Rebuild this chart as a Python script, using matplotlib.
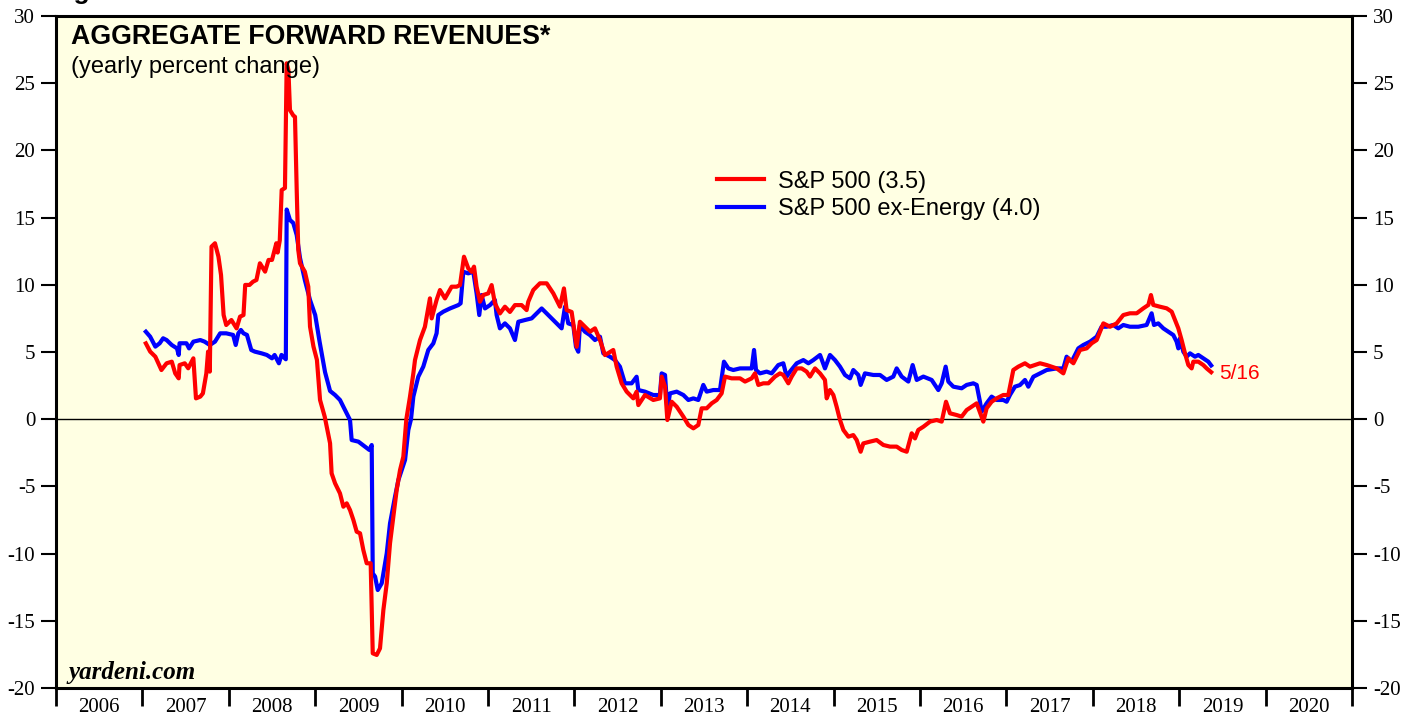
import matplotlib
matplotlib.use("Agg")
import matplotlib.pyplot as plt
import numpy as np

# S&P 500 aggregate forward revenues, yearly % change
red_years = [
    2007.04, 2007.09, 2007.15, 2007.22, 2007.28, 2007.34, 2007.38, 2007.42, 2007.43, 2007.49,
    2007.53, 2007.59, 2007.62, 2007.67, 2007.70, 2007.74, 2007.76, 2007.78, 2007.80, 2007.84,
    2007.88, 2007.91, 2007.94, 2007.97, 2008.03, 2008.09, 2008.13, 2008.17, 2008.19, 2008.24,
    2008.28, 2008.32, 2008.36, 2008.42, 2008.46, 2008.50, 2008.55, 2008.565, 2008.59, 2008.612,
    2008.65, 2008.67, 2008.69, 2008.708, 2008.746, 2008.766, 2008.786, 2008.804, 2008.824, 2008.88,
    2008.92, 2008.94, 2008.98, 2009.02, 2009.056, 2009.11, 2009.133, 2009.172, 2009.19, 2009.23,
    2009.287, 2009.326, 2009.365, 2009.403, 2009.442, 2009.48, 2009.519, 2009.557, 2009.596, 2009.642,
    2009.666, 2009.712, 2009.75, 2009.789, 2009.828, 2009.866, 2009.905, 2009.943, 2009.982, 2010.02,
    2010.055, 2010.097, 2010.136, 2010.155, 2010.213, 2010.27, 2010.328, 2010.348, 2010.405, 2010.444,
    2010.502, 2010.579, 2010.637, 2010.676, 2010.722, 2010.772, 2010.81, 2010.838, 2010.868, 2010.907,
    2010.945, 2011.003, 2011.042, 2011.08, 2011.138, 2011.196, 2011.254, 2011.312, 2011.389, 2011.447,
    2011.466, 2011.524, 2011.601, 2011.679, 2011.756, 2011.833, 2011.879, 2011.91, 2011.968, 2012.026,
    2012.064, 2012.122, 2012.18, 2012.238, 2012.296, 2012.354, 2012.45, 2012.489, 2012.547, 2012.605,
    2012.682, 2012.72, 2012.74, 2012.817, 2012.913, 2012.99, 2013.01, 2013.049, 2013.076, 2013.126,
    2013.184, 2013.261, 2013.319, 2013.377, 2013.434, 2013.473, 2013.531, 2013.589, 2013.647, 2013.704,
    2013.743, 2013.82, 2013.917, 2013.975, 2014.052, 2014.09, 2014.129, 2014.187, 2014.245, 2014.322,
    2014.379, 2014.418, 2014.476, 2014.515, 2014.573, 2014.63, 2014.688, 2014.727, 2014.785, 2014.843,
    2014.9, 2014.92, 2014.958, 2014.997, 2015.035, 2015.074, 2015.113, 2015.171, 2015.228, 2015.267,
    2015.313, 2015.344, 2015.421, 2015.498, 2015.576, 2015.653, 2015.73, 2015.788, 2015.846, 2015.904,
    2015.942, 2015.98, 2016.039, 2016.116, 2016.193, 2016.251, 2016.301, 2016.347, 2016.424, 2016.482,
    2016.54, 2016.598, 2016.656, 2016.694, 2016.733, 2016.771, 2016.829, 2016.887, 2016.964, 2017.022,
    2017.08, 2017.138, 2017.215, 2017.273, 2017.389, 2017.466, 2017.582, 2017.659, 2017.717, 2017.775,
    2017.852, 2017.929, 2017.987, 2018.045, 2018.122, 2018.199, 2018.276, 2018.353, 2018.43, 2018.508,
    2018.585, 2018.643, 2018.673, 2018.7, 2018.777, 2018.855, 2018.913, 2018.951, 2018.99, 2019.028,
    2019.067, 2019.106, 2019.144, 2019.163, 2019.221, 2019.279, 2019.318, 2019.37,
]
red_values = [
    5.64, 5.03, 4.65, 3.66, 4.16, 4.28, 3.41, 3.04, 4.03, 4.16,
    3.79, 4.53, 1.55, 1.68, 1.92, 3.41, 5.03, 3.54, 12.84, 13.09,
    12.10, 10.73, 7.75, 7.01, 7.38, 6.76, 7.63, 7.75, 9.99, 9.99,
    10.23, 10.36, 11.60, 10.98, 11.85, 11.85, 13.09, 12.40, 13.30, 17.05,
    17.20, 26.48, 25.98, 23.00, 22.60, 22.50, 17.05, 12.60, 11.60, 10.98,
    9.86, 6.89, 5.40, 4.41, 1.43, 0.19, -0.55, -1.79, -4.03, -4.77,
    -5.52, -6.51, -6.26, -6.76, -7.50, -8.37, -8.49, -9.73, -10.72, -10.72,
    -17.42, -17.54, -17.05, -14.20, -12.21, -9.23, -7.25, -5.27, -3.78, -2.79,
    0.00, 1.67, 3.41, 4.40, 5.89, 6.88, 8.99, 7.50, 8.87, 9.61,
    8.99, 9.86, 9.86, 9.98, 12.09, 11.22, 10.97, 11.35, 9.86, 8.74,
    9.24, 9.36, 9.98, 8.62, 7.87, 8.37, 7.98, 8.49, 8.49, 8.12,
    8.74, 9.61, 10.11, 10.11, 9.36, 8.37, 9.73, 8.12, 7.98, 5.39,
    7.25, 6.88, 6.51, 6.76, 5.89, 4.77, 5.15, 3.91, 2.67, 2.05,
    1.55, 2.05, 1.05, 1.80, 1.43, 1.55, 3.17, 2.42, -0.06, 1.30,
    0.93, 0.19, -0.43, -0.68, -0.43, 0.81, 0.81, 1.18, 1.43, 1.92,
    3.17, 3.04, 3.04, 2.80, 3.04, 3.41, 2.55, 2.67, 2.67, 3.17,
    3.41, 3.29, 2.67, 3.17, 3.78, 3.78, 3.54, 3.17, 3.78, 3.41,
    2.92, 1.55, 2.17, 1.80, 0.93, -0.06, -0.80, -1.30, -1.18, -1.55,
    -2.42, -1.80, -1.67, -1.55, -1.92, -2.04, -2.04, -2.29, -2.42, -1.05,
    -1.43, -0.80, -0.56, -0.18, -0.06, -0.18, 1.30, 0.44, 0.31, 0.19,
    0.68, 0.93, 1.18, 0.50, -0.18, 0.81, 1.30, 1.55, 1.80, 1.80,
    3.66, 3.91, 4.16, 3.91, 4.16, 4.03, 3.78, 3.41, 4.53, 4.16,
    5.15, 5.27, 5.65, 5.89, 7.13, 6.88, 7.13, 7.75, 7.88, 7.88,
    8.25, 8.50, 9.24, 8.50, 8.37, 8.25, 8.00, 7.38, 6.76, 5.89,
    4.90, 4.03, 3.78, 4.28, 4.28, 4.03, 3.78, 3.50,
]

# S&P 500 ex-Energy
blue_years = [
    2007.04, 2007.09, 2007.15, 2007.20, 2007.24, 2007.28, 2007.34, 2007.40, 2007.42, 2007.43,
    2007.51, 2007.54, 2007.59, 2007.67, 2007.72, 2007.78, 2007.84, 2007.90, 2007.97, 2008.05,
    2008.08, 2008.11, 2008.14, 2008.17, 2008.21, 2008.26, 2008.30, 2008.38, 2008.44, 2008.50,
    2008.53, 2008.58, 2008.61, 2008.66, 2008.67, 2008.708, 2008.746, 2008.786, 2008.824, 2008.88,
    2008.94, 2009.00, 2009.05, 2009.114, 2009.172, 2009.23, 2009.287, 2009.345, 2009.403, 2009.422,
    2009.50, 2009.577, 2009.627, 2009.654, 2009.666, 2009.693, 2009.724, 2009.77, 2009.828, 2009.866,
    2009.924, 2009.963, 2010.001, 2010.04, 2010.078, 2010.109, 2010.136, 2010.193, 2010.251, 2010.309,
    2010.367, 2010.405, 2010.425, 2010.483, 2010.56, 2010.656, 2010.683, 2010.714, 2010.772, 2010.83,
    2010.868, 2010.899, 2010.926, 2010.965, 2011.023, 2011.08, 2011.10, 2011.138, 2011.196, 2011.254,
    2011.312, 2011.351, 2011.428, 2011.505, 2011.563, 2011.621, 2011.679, 2011.756, 2011.852, 2011.891,
    2011.929, 2011.987, 2012.018, 2012.045, 2012.064, 2012.122, 2012.18, 2012.238, 2012.296, 2012.335,
    2012.412, 2012.469, 2012.527, 2012.585, 2012.663, 2012.72, 2012.74, 2012.817, 2012.913, 2012.99,
    2013.01, 2013.049, 2013.076, 2013.106, 2013.184, 2013.261, 2013.319, 2013.377, 2013.434, 2013.492,
    2013.531, 2013.608, 2013.685, 2013.731, 2013.782, 2013.839, 2013.917, 2013.994, 2014.052, 2014.079,
    2014.102, 2014.148, 2014.225, 2014.283, 2014.36, 2014.418, 2014.457, 2014.495, 2014.573, 2014.65,
    2014.708, 2014.765, 2014.843, 2014.9, 2014.958, 2015.016, 2015.074, 2015.132, 2015.19, 2015.228,
    2015.286, 2015.313, 2015.363, 2015.46, 2015.537, 2015.614, 2015.691, 2015.73, 2015.788, 2015.865,
    2015.915, 2015.962, 2016.039, 2016.135, 2016.212, 2016.251, 2016.297, 2016.328, 2016.386, 2016.482,
    2016.54, 2016.617, 2016.656, 2016.694, 2016.713, 2016.771, 2016.829, 2016.887, 2016.964, 2017.003,
    2017.041, 2017.099, 2017.157, 2017.215, 2017.254, 2017.312, 2017.389, 2017.466, 2017.582, 2017.659,
    2017.697, 2017.755, 2017.832, 2017.89, 2017.968, 2018.045, 2018.102, 2018.16, 2018.237, 2018.295,
    2018.353, 2018.43, 2018.527, 2018.623, 2018.681, 2018.708, 2018.758, 2018.816, 2018.874, 2018.932,
    2018.97, 2018.99, 2019.009, 2019.048, 2019.086, 2019.125, 2019.183, 2019.221, 2019.279, 2019.337,
    2019.37,
]
blue_values = [
    6.51, 6.14, 5.40, 5.65, 6.02, 5.89, 5.52, 5.27, 4.78, 5.65,
    5.65, 5.27, 5.77, 5.89, 5.77, 5.52, 5.77, 6.39, 6.39, 6.27,
    5.52, 6.39, 6.64, 6.39, 6.27, 5.15, 5.03, 4.90, 4.78, 4.53,
    4.78, 4.16, 4.78, 4.46, 15.60, 14.82, 14.60, 13.70, 12.00, 10.36,
    8.87, 7.75, 5.80, 3.50, 2.10, 1.80, 1.43, 0.69, -0.06, -1.55,
    -1.67, -2.04, -2.29, -1.92, -11.47, -11.71, -12.71, -12.21, -9.98, -7.75,
    -5.76, -4.52, -3.78, -3.03, -0.80, 0.00, 1.68, 3.16, 3.91, 5.15,
    5.64, 6.39, 7.75, 8.00, 8.24, 8.49, 8.62, 10.97, 10.85, 10.97,
    9.36, 7.75, 9.24, 8.24, 8.49, 8.87, 7.75, 6.76, 7.13, 6.76,
    5.89, 7.25, 7.38, 7.50, 7.87, 8.24, 7.87, 7.38, 6.76, 8.37,
    7.13, 7.00, 5.39, 5.02, 7.00, 6.51, 6.26, 5.89, 6.14, 4.90,
    4.65, 4.40, 3.91, 2.67, 2.67, 3.16, 2.17, 2.05, 1.80, 1.80,
    3.41, 3.29, 0.68, 1.92, 2.05, 1.80, 1.43, 1.55, 1.43, 2.55,
    2.05, 2.17, 2.17, 4.28, 3.78, 3.66, 3.78, 3.78, 3.78, 5.15,
    3.66, 3.41, 3.54, 3.41, 4.03, 4.16, 3.17, 3.54, 4.16, 4.40,
    4.16, 4.40, 4.78, 3.78, 4.78, 4.40, 3.91, 3.29, 3.04, 3.66,
    3.29, 2.55, 3.41, 3.29, 3.29, 2.92, 3.17, 3.78, 3.17, 2.80,
    4.03, 2.92, 3.17, 2.92, 2.17, 2.67, 3.91, 2.80, 2.42, 2.30,
    2.55, 2.67, 2.55, 1.30, 0.56, 1.18, 1.68, 1.43, 1.43, 1.30,
    1.80, 2.42, 2.54, 2.92, 2.42, 3.16, 3.41, 3.66, 3.78, 3.78,
    4.65, 4.28, 5.27, 5.52, 5.77, 6.14, 6.88, 6.88, 7.01, 6.76,
    7.01, 6.88, 6.88, 7.01, 7.88, 7.01, 7.13, 6.76, 6.51, 6.26,
    5.77, 5.27, 6.01, 5.02, 4.65, 4.90, 4.65, 4.78, 4.53, 4.28,
    4.00,
]

year_labels = list(range(2006, 2021))
y_ticks = list(range(-20, 31, 5))
legend_labels = ["S&P 500 (3.5)", "S&P 500 ex-Energy (4.0)"]
last_date_label = "5/16"

plt.rcParams["font.family"] = "Liberation Serif"
plt.rcParams["axes.unicode_minus"] = False

fig = plt.figure(figsize=(14.17, 7.19), dpi=100)
ax = fig.add_axes([56 / 1417, 31 / 719, 1296 / 1417, 672 / 719])
ax.set_facecolor("#ffffe3")

ax.axhline(0, color="black", linewidth=1.0, zorder=1)
ax.plot(red_years, red_values, color="#ff0000", linewidth=3.0, label=legend_labels[0],
        solid_joinstyle="round", zorder=3)
ax.plot(blue_years, blue_values, color="#0000ff", linewidth=3.0, label=legend_labels[1],
        solid_joinstyle="round", zorder=2)

ax.set_xlim(2006, 2021)
ax.set_ylim(-20, 30)

# year boundaries as ticks, year names centred between them
ax.set_xticks(np.arange(2006, 2022))
ax.set_xticks(np.array(year_labels) + 0.5, minor=True)
ax.set_xticklabels([str(y) for y in year_labels], minor=True)
ax.tick_params(axis="x", which="major", direction="out", length=13, width=2,
               labelbottom=False)
ax.tick_params(axis="x", which="minor", length=0, pad=7, labelsize=15)

ax.set_yticks(y_ticks)
ax.tick_params(axis="y", which="major", direction="out", length=11, width=1.5,
               left=True, right=True, labelleft=True, labelright=True,
               pad=4, labelsize=15)

for spine in ax.spines.values():
    spine.set_linewidth(2.2)

ax.text(0.0116, 0.9583, "AGGREGATE FORWARD REVENUES*", transform=ax.transAxes,
        fontsize=19.3, fontweight="bold", family="Liberation Sans", va="baseline")
ax.text(0.0116, 0.9152, "(yearly percent change)", transform=ax.transAxes,
        fontsize=17, family="Liberation Sans", va="baseline")
ax.text(0.0093, 0.0134, "yardeni.com", transform=ax.transAxes,
        fontsize=18, fontweight="bold", fontstyle="italic", va="baseline")

ax.annotate(last_date_label, xy=(red_years[-1], red_values[-1]),
            xytext=(6, -5), textcoords="offset points",
            color="#ff0000", fontsize=15, family="Liberation Sans", va="baseline")

leg = ax.legend(loc="upper left", bbox_to_anchor=(0.510, 0.770), frameon=False,
                prop={"family": "Liberation Sans", "size": 17},
                handlelength=2.0, handletextpad=0.6, labelspacing=0.25, borderpad=0,
                borderaxespad=0)

fig.text(50 / 1417, 1 + 1 / 719, "Figure 5", fontsize=19, fontweight="bold",
         family="Liberation Sans", va="baseline")

fig.savefig("out.png", dpi=100, facecolor="white")
